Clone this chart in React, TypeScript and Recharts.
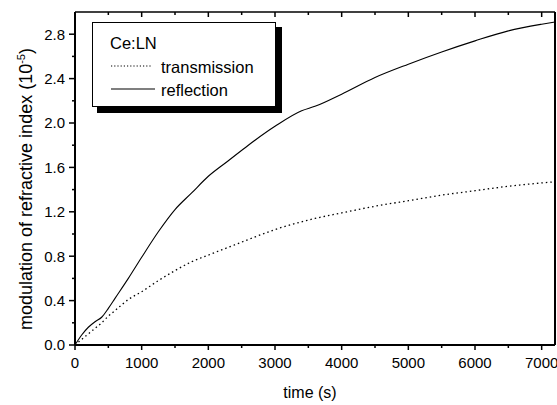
import React from 'react';
import { LineChart, Line, XAxis, YAxis } from 'recharts';

const times = [0, 100, 200, 300, 400, 500, 600, 800, 1000, 1250, 1500, 1750, 2000, 2300, 2600, 3000, 3400, 3600, 4000, 4500, 5000, 5500, 6000, 6500, 7000, 7200];
const reflection = [0, 0.09, 0.16, 0.21, 0.25, 0.33, 0.42, 0.6, 0.79, 1.02, 1.22, 1.37, 1.52, 1.66, 1.8, 1.97, 2.11, 2.15, 2.26, 2.41, 2.53, 2.64, 2.74, 2.83, 2.89, 2.91];
const transmission = [0, 0.05, 0.1, 0.15, 0.2, 0.26, 0.31, 0.41, 0.48, 0.58, 0.67, 0.75, 0.81, 0.88, 0.95, 1.04, 1.11, 1.14, 1.19, 1.25, 1.3, 1.35, 1.39, 1.43, 1.46, 1.47];

const xTicks = [0, 500, 1000, 1500, 2000, 2500, 3000, 3500, 4000, 4500, 5000, 5500, 6000, 6500, 7000];
const yTicks = [0, 0.2, 0.4, 0.6, 0.8, 1.0, 1.2, 1.4, 1.6, 1.8, 2.0, 2.2, 2.4, 2.6, 2.8];

const data = times.map((t, i) => ({ t, reflection: reflection[i], transmission: transmission[i] }));

const FONT = '"Liberation Sans", Arial, Helvetica, sans-serif';

const isMajorX = (v: number) => Math.round(v) % 1000 === 0;
const isMajorY = (v: number) => Math.round(v * 10) % 4 === 0;

const BottomTick = (props: any) => {
  const { x, y, payload } = props;
  const v = payload.value;
  const major = isMajorX(v);
  return (
    <g>
      <line x1={x} x2={x} y1={y} y2={y + (major ? 5 : 3)} stroke="#000" strokeWidth={1.5} />
      {major && (
        <text x={x} y={y + 22.5} textAnchor="middle" fontSize={15} fontFamily={FONT} fill="#000">
          {v}
        </text>
      )}
    </g>
  );
};

const TopTick = (props: any) => {
  const { x, y, payload } = props;
  const major = isMajorX(payload.value);
  return <line x1={x} x2={x} y1={y} y2={y + (major ? 5 : 3)} stroke="#000" strokeWidth={1.5} />;
};

const LeftTick = (props: any) => {
  const { x, y, payload } = props;
  const v = payload.value;
  const major = isMajorY(v);
  return (
    <g>
      <line x1={x - (major ? 6 : 3)} x2={x} y1={y} y2={y} stroke="#000" strokeWidth={1.5} />
      {major && (
        <text x={x - 10} y={y + 5.3} textAnchor="end" fontSize={15} fontFamily={FONT} fill="#000">
          {v.toFixed(1)}
        </text>
      )}
    </g>
  );
};

const RightTick = (props: any) => {
  const { x, y, payload } = props;
  const major = isMajorY(payload.value);
  return <line x1={x - (major ? 5 : 3)} x2={x} y1={y} y2={y} stroke="#000" strokeWidth={1.5} />;
};

export default function App() {
  return (
    <div style={{ position: 'absolute', left: 0, top: 0, width: 557, height: 405, background: '#fff' }}>
      <LineChart width={557} height={405} data={data} margin={{ top: 11, right: 1, bottom: 59, left: 74 }}>
        <XAxis
          xAxisId="bottom"
          dataKey="t"
          type="number"
          domain={[0, 7200]}
          ticks={xTicks}
          interval={0}
          height={1}
          tickSize={0}
          tickMargin={0}
          tickLine={false}
          tick={<BottomTick />}
          axisLine={{ stroke: '#000', strokeWidth: 2 }}
        />
        <XAxis
          xAxisId="top"
          orientation="top"
          dataKey="t"
          type="number"
          domain={[0, 7200]}
          ticks={xTicks}
          interval={0}
          height={1}
          tickSize={0}
          tickMargin={0}
          tickLine={false}
          tick={<TopTick />}
          axisLine={{ stroke: '#000', strokeWidth: 1.5 }}
        />
        <YAxis
          yAxisId="left"
          type="number"
          domain={[0, 3.0]}
          ticks={yTicks}
          interval={0}
          width={1}
          tickSize={0}
          tickMargin={0}
          tickLine={false}
          tick={<LeftTick />}
          axisLine={{ stroke: '#000', strokeWidth: 2 }}
        />
        <YAxis
          yAxisId="right"
          orientation="right"
          type="number"
          domain={[0, 3.0]}
          ticks={yTicks}
          interval={0}
          width={1}
          tickSize={0}
          tickMargin={0}
          tickLine={false}
          tick={<RightTick />}
          axisLine={{ stroke: '#000', strokeWidth: 2 }}
        />
        <Line
          xAxisId="bottom"
          yAxisId="left"
          type="monotone"
          dataKey="transmission"
          stroke="#000"
          strokeWidth={1.3}
          strokeDasharray="1.5 3"
          dot={false}
          isAnimationActive={false}
        />
        <Line
          xAxisId="bottom"
          yAxisId="left"
          type="monotone"
          dataKey="reflection"
          stroke="#000"
          strokeWidth={1.1}
          dot={false}
          isAnimationActive={false}
        />
      </LineChart>
      <svg width={557} height={405} style={{ position: 'absolute', left: 0, top: 0, pointerEvents: 'none' }}>
        <text x={310} y={398} textAnchor="middle" fontSize={16} fontFamily={FONT} fill="#000">
          time (s)
        </text>
        <text
          x={32}
          y={189}
          transform="rotate(-90 32 189)"
          textAnchor="middle"
          fontSize={18}
          fontFamily={FONT}
          fill="#000"
        >
          modulation of refractive index (10
          <tspan dy={-7} fontSize={11}>-5</tspan>
          <tspan dy={7}>)</tspan>
        </text>
        <rect x={97} y={27} width={185} height={86} fill="#000" />
        <rect x={92.5} y={22.5} width={183} height={84} fill="#fff" stroke="#000" strokeWidth={1} />
        <text x={110} y={49} fontSize={16.5} fontFamily={FONT} fill="#000">Ce:LN</text>
        <line x1={111} x2={152} y1={66} y2={66} stroke="#000" strokeWidth={1.2} strokeDasharray="1.2 2" />
        <text x={161} y={73} fontSize={16.5} fontFamily={FONT} fill="#000">transmission</text>
        <line x1={111} x2={155} y1={89} y2={89} stroke="#000" strokeWidth={1.1} />
        <text x={161} y={96} fontSize={16.5} fontFamily={FONT} fill="#000">reflection</text>
      </svg>
    </div>
  );
}
